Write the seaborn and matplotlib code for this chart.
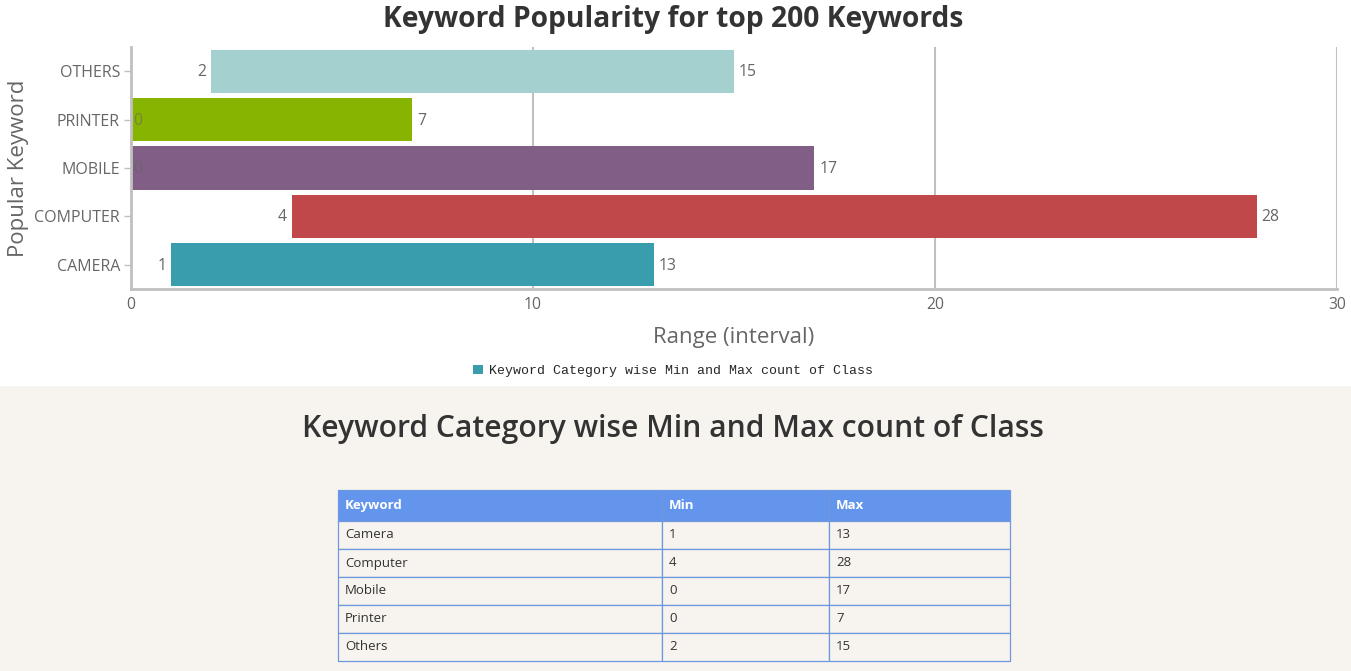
import matplotlib
matplotlib.use("Agg")
import matplotlib.pyplot as plt
import seaborn as sns
import pandas as pd
from matplotlib.patches import Patch, Rectangle

# ---- data ----
keywords = ["Camera", "Computer", "Mobile", "Printer", "Others"]
min_counts = [1, 4, 0, 0, 2]
max_counts = [13, 28, 17, 7, 15]
chart_labels = [k.upper() for k in keywords]
bar_colors = ["#3a9dae", "#c0484a", "#805e86", "#87b400", "#a5d0d0"]
x_ticks = [0, 10, 20, 30]
table_columns = ["Keyword", "Min", "Max"]
chart_title = "Keyword Popularity for top 200 Keywords"
table_title = "Keyword Category wise Min and Max count of Class"

sns.set_theme(style="white")
plt.rcParams['font.family'] = ['Open Sans', 'DejaVu Sans']

W, H = 1351, 671
df = pd.DataFrame({"Keyword": chart_labels, "Min": min_counts, "Max": max_counts})
order = chart_labels[::-1]

fig = plt.figure(figsize=(W / 100, H / 100), dpi=100)
fig.patch.set_facecolor("white")
fig.patches.append(Rectangle((0, 0), 1, (H - 386) / H, transform=fig.transFigure,
                             facecolor="#f7f4ef", edgecolor="none", zorder=-5))

ax = fig.add_axes([131 / W, 1 - 289 / H, (1337 - 131) / W, (289 - 47) / H])
ax.set_facecolor("white")
sns.barplot(data=df, x="Max", y="Keyword", hue="Keyword", order=order,
            hue_order=chart_labels, palette=bar_colors, width=0.89,
            legend=False, ax=ax, saturation=1, errorbar=None)

lab_col = "#666666"
for p in ax.patches:
    yc = p.get_y() + p.get_height() / 2
    cat = order[int(round(yc))]
    row = df[df["Keyword"] == cat].iloc[0]
    mn, mx = row["Min"], row["Max"]
    p.set_x(mn)
    p.set_width(mx - mn)
    p.set_edgecolor("none")
    if mn > 0:
        ax.annotate(str(mn), xy=(mn, yc), xytext=(-5, -1), textcoords="offset pixels",
                    ha="right", va="center", fontsize=11.3, color=lab_col)
    else:
        ax.annotate(str(mn), xy=(mn, yc), xytext=(2, -1), textcoords="offset pixels",
                    ha="left", va="center", fontsize=11.3, color=lab_col, alpha=0.6)
    ax.annotate(str(mx), xy=(mx, yc), xytext=(5, -1), textcoords="offset pixels",
                ha="left", va="center", fontsize=11.3, color=lab_col)

ax.set_xlim(0, 30)
ax.set_ylim(4.5, -0.5)
ax.set_xticks(x_ticks)
ax.xaxis.grid(True, color="#c0c0c0", lw=1.5)
ax.set_axisbelow(True)
for s in ["top", "right"]:
    ax.spines[s].set_visible(False)
for s in ["left", "bottom"]:
    ax.spines[s].set_color("#c0c0c0")
    ax.spines[s].set_linewidth(2)
ax.tick_params(axis="y", left=True, length=5, width=1, color="#c0c0c0",
               labelsize=11.5, labelcolor=lab_col, pad=3)
ax.tick_params(axis="x", bottom=False, length=0, labelsize=11.3, labelcolor=lab_col, pad=6)
ax.set_xlabel("Range (interval)", fontsize=16, color=lab_col, labelpad=10)
ax.set_ylabel("Popular Keyword", fontsize=16, color=lab_col, labelpad=4)

fig.text(673 / W, 1 - 19 / H, chart_title, ha="center", va="center",
         fontsize=20.3, fontweight="bold", color="#333333")

fig.legend(handles=[Patch(facecolor=bar_colors[0], edgecolor="none")], labels=[table_title],
           loc="center", bbox_to_anchor=(673 / W, 1 - 371 / H), frameon=False,
           prop={"family": "Liberation Mono", "size": 9.5}, handlelength=0.75,
           handleheight=0.75, handletextpad=0.4)

fig.text(673 / W, 1 - 429 / H, table_title, ha="center", va="center",
         fontsize=21.6, fontweight="semibold", color="#333333")

# ---- table ----
col_px = [324, 167, 181]
ax2 = fig.add_axes([338 / W, (H - 661) / H, 672 / W, 171 / H])
ax2.axis("off")
cell_text = [[k, str(a), str(b)] for k, a, b in zip(keywords, min_counts, max_counts)]
tbl = ax2.table(cellText=cell_text, colLabels=table_columns,
                colWidths=[c / sum(col_px) for c in col_px],
                cellLoc="left", colLoc="left", bbox=[0, 0, 1, 1])
tbl.auto_set_font_size(False)
for (r, c), cell in tbl.get_celld().items():
    cell.set_edgecolor("#6f97dd")
    cell.set_linewidth(0.9)
    cell.PAD = 7 / col_px[c]
    cell.set_height(31 if r == 0 else 28)
    if r == 0:
        cell.set_facecolor("#6495ed")
        cell.get_text().set_color("white")
        cell.get_text().set_fontweight("bold")
        cell.get_text().set_fontsize(9.5)
    else:
        cell.set_facecolor("#f7f4ef")
        cell.get_text().set_color("#333333")
        cell.get_text().set_fontsize(9.5)

fig.savefig("out.png", dpi=100, facecolor=fig.get_facecolor())
